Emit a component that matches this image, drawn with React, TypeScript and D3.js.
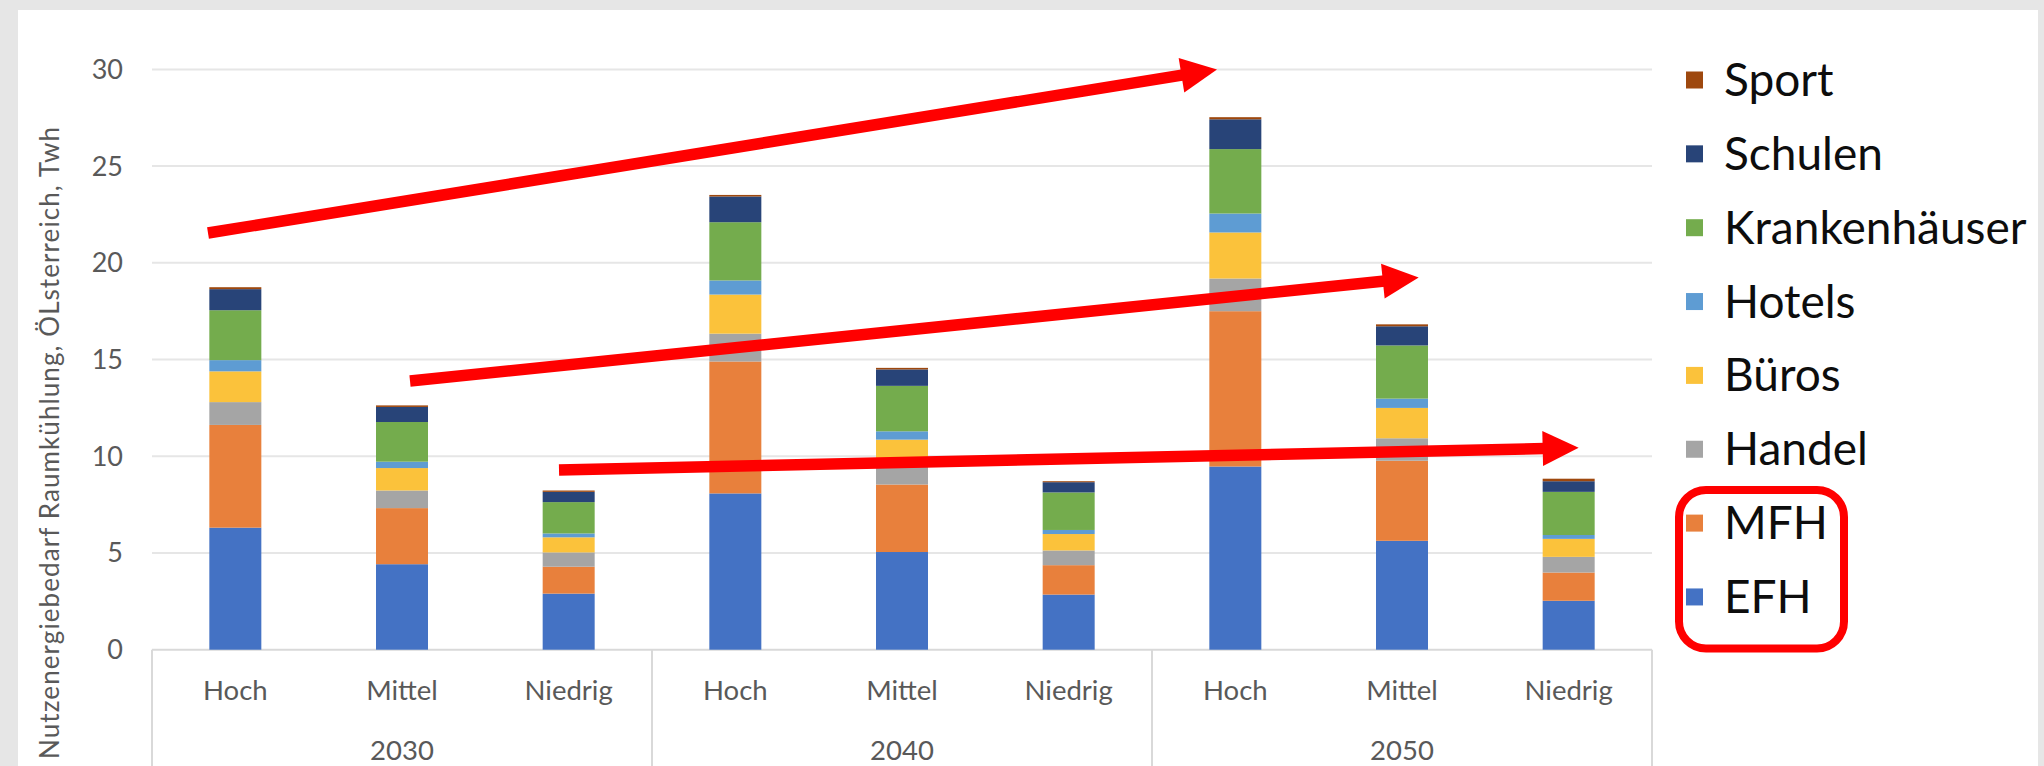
import React from "react";
import * as d3 from "d3";

const years = ["2030", "2040", "2050"];
const scenarios = ["Hoch", "Mittel", "Niedrig"];
const seriesNames = ["EFH", "MFH", "Handel", "Büros", "Hotels", "Krankenhäuser", "Schulen", "Sport"];
const seriesColors = ["#4472C4", "#E8803C", "#A5A5A5", "#FBC23B", "#5E9CD3", "#74AC4D", "#284478", "#9E480E"];

const EFH = [6.31, 4.42, 2.9, 8.08, 5.05, 2.85, 9.47, 5.63, 2.53];
const MFH = [5.31, 2.9, 1.39, 6.82, 3.49, 1.52, 8.03, 4.14, 1.46];
const Handel = [1.18, 0.91, 0.74, 1.44, 1.06, 0.76, 1.69, 1.16, 0.81];
const Bueros = [1.59, 1.16, 0.78, 2.02, 1.26, 0.85, 2.38, 1.57, 0.93];
const Hotels = [0.58, 0.33, 0.2, 0.73, 0.43, 0.21, 0.98, 0.48, 0.2];
const Krankenhaeuser = [2.58, 2.05, 1.62, 3.01, 2.35, 1.94, 3.33, 2.75, 2.23];
const Schulen = [1.09, 0.78, 0.53, 1.33, 0.85, 0.53, 1.54, 0.99, 0.55];
const Sport = [0.1, 0.08, 0.07, 0.08, 0.08, 0.05, 0.11, 0.1, 0.13];

const yTicks = [0, 5, 10, 15, 20, 25, 30];
const yTitle = "Nutzenergiebedarf Raumkühlung, ÖLsterreich, Twh";

// annotation arrows in data units: [category position, value]
const arrows = [
  { from: [-0.164, 21.54], to: [5.89, 30.0] },
  { from: [1.048, 13.89], to: [7.1, 19.24] },
  { from: [1.942, 9.29], to: [8.06, 10.44] },
];

const W = 2044;
const H = 766;
const FONT = "Lato, 'Open Sans', sans-serif";

export default function App() {
  const seriesValues = [EFH, MFH, Handel, Bueros, Hotels, Krankenhaeuser, Schulen, Sport];
  const cats = years.flatMap((y) => scenarios.map((s) => `${y}|${s}`));
  const rows = cats.map((c, i) => {
    const r: any = { cat: c };
    seriesNames.forEach((n, k) => (r[n] = seriesValues[k][i]));
    return r;
  });
  const stacked = d3.stack().keys(seriesNames)(rows);

  const plotL = 152;
  const plotR = 1652;
  const x = d3.scaleBand<string>().domain(cats).range([plotL, plotR]).paddingInner(0.688).paddingOuter(0.344);
  const y = d3.scaleLinear().domain([0, 30]).range([649.7, 69.4]);
  const step = x.step();
  const xc = (p: number) => plotL + (p + 0.5) * step;

  const legendOrder = [...seriesNames].reverse();
  const legendColors = [...seriesColors].reverse();

  const arrowShape = (a: any, k: number) => {
    const x1 = xc(a.from[0]);
    const y1 = y(a.from[1]);
    const x2 = xc(a.to[0]);
    const y2 = y(a.to[1]);
    const ang = Math.atan2(y2 - y1, x2 - x1);
    const headLen = 36;
    const headW = 35;
    const bx = x2 - headLen * Math.cos(ang);
    const by = y2 - headLen * Math.sin(ang);
    const px = -Math.sin(ang);
    const py = Math.cos(ang);
    const pts = [
      [x2, y2],
      [bx + (px * headW) / 2, by + (py * headW) / 2],
      [bx - (px * headW) / 2, by - (py * headW) / 2],
    ];
    return (
      <g key={k}>
        <line x1={x1} y1={y1} x2={bx + 2 * Math.cos(ang)} y2={by + 2 * Math.sin(ang)} stroke="#FF0000" strokeWidth={11.5} />
        <polygon points={pts.map((p) => p.join(",")).join(" ")} fill="#FF0000" />
      </g>
    );
  };

  const groupEdges = [0, 3, 6, 9].map((i) => plotL + i * step);

  return (
    <div style={{ position: "fixed", left: 0, top: 0 }}>
      <svg width={W} height={H} style={{ display: "block" }} fontFamily={FONT}>
        <rect x={0} y={0} width={W} height={H} fill="#E6E6E6" />
        <rect x={18} y={10} width={2020} height={H - 10} fill="#FFFFFF" />

        {/* gridlines */}
        {yTicks.map((t) => (
          <line key={t} x1={plotL} x2={plotR} y1={y(t)} y2={y(t)} stroke={t === 0 ? "#D9D9D9" : "#E6E6E6"} strokeWidth={2} />
        ))}
        {/* y tick labels */}
        {yTicks.map((t) => (
          <text key={"l" + t} x={123} y={y(t) + 9.5} textAnchor="end" fontSize={27} fill="#595959">
            {t}
          </text>
        ))}

        {/* bars */}
        {stacked.map((s, k) => (
          <g key={s.key} fill={seriesColors[k]}>
            {s.map((d: any, i: number) => (
              <rect key={i} x={x(cats[i])} width={x.bandwidth()} y={y(d[1])} height={Math.max(0, y(d[0]) - y(d[1]))} />
            ))}
          </g>
        ))}

        {/* category axis */}
        {groupEdges.map((gx, i) => (
          <line key={"g" + i} x1={gx} x2={gx} y1={y(0)} y2={H} stroke="#D9D9D9" strokeWidth={2} />
        ))}
        {cats.map((c, i) => (
          <text key={"c" + i} x={(x(c) as number) + x.bandwidth() / 2} y={699.5} textAnchor="middle" fontSize={27.5} fill="#595959">
            {scenarios[i % 3]}
          </text>
        ))}
        {years.map((yr, j) => (
          <text key={"y" + j} x={plotL + (j * 3 + 1.5) * step} y={759.5} textAnchor="middle" fontSize={27.5} fill="#595959">
            {yr}
          </text>
        ))}

        {/* y title */}
        <text
          transform="translate(59,127) rotate(-90)"
          textAnchor="end"
          fontSize={26}
          fill="#595959"
          textLength={632}
          lengthAdjust="spacing"
        >
          {yTitle}
        </text>

        {/* arrows */}
        {arrows.map(arrowShape)}

        {/* legend */}
        {legendOrder.map((n, i) => (
          <g key={n} transform={`translate(1686,${80 + i * 73.85})`}>
            <rect x={0} y={-8.5} width={17} height={17} fill={legendColors[i]} />
            <text x={38} y={16} fontSize={46} fill="#0D0D0D">
              {n}
            </text>
          </g>
        ))}
        <rect x={1679} y={490} width={165} height={158.5} rx={27} ry={27} fill="none" stroke="#FF0000" strokeWidth={8} />
      </svg>
    </div>
  );
}
